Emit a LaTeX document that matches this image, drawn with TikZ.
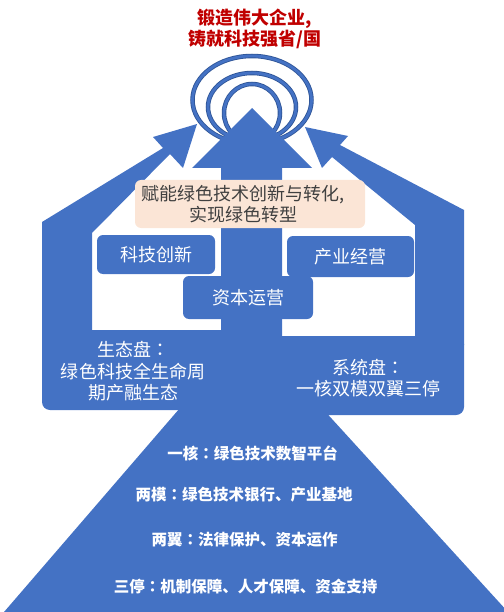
\documentclass[tikz,border=0pt]{standalone}
\usepackage{fontspec}
\setmainfont{Noto Sans CJK SC}
\newfontfamily\fanTi{Noto Sans CJK TC}
\newcommand{\maoHao}{{\fanTi ：}}
\definecolor{zhuLan}{HTML}{4472C4}
\definecolor{shenLan}{HTML}{2F5597}
\definecolor{qianFen}{HTML}{FBE5D6}
\definecolor{shenHong}{HTML}{C00000}
\definecolor{wenHui}{HTML}{404040}

\begin{document}
\begin{tikzpicture}[x=1bp,y=-1bp,
		kuai/.style={fill=zhuLan, rounded corners=6bp, inner sep=0pt},
		baiZi/.style={text=white, font=\fontsize{18bp}{21.5bp}\selectfont, align=center},
		taZi/.style={text=white, font=\bfseries\fontsize{15.5bp}{18bp}\selectfont},
		huan/.style={draw=shenLan, line width=4.5bp},
		huanNei/.style={draw=zhuLan, line width=2.8bp}]
		\useasboundingbox (0,0) rectangle (504,612);
		% rings behind the arrows
		\foreach \cy/\rx/\ry in {100/59.5/44, 107/44/34, 113/28/29}{
			\draw[huan] (252,\cy) ellipse [x radius=\rx bp, y radius=\ry bp];
			\draw[huanNei] (252,\cy) ellipse [x radius=\rx bp, y radius=\ry bp];
		}
		% three arrows
		\fill[zhuLan] (42,222) -- (163,148) -- (153,137) -- (197,124) -- (183,168) -- (170,154) -- (92,233) -- (92,345) -- (42,345) -- cycle;
		\fill[zhuLan] (464,210) -- (340,145) -- (348,136) -- (305,127) -- (322,168) -- (332,157) -- (415,225) -- (415,345) -- (464,345) -- cycle;
		\fill[zhuLan] (252,108) -- (312,168) -- (282,168) -- (282,345) -- (221,345) -- (221,168) -- (192,168) -- cycle;
		% panels and pyramid
		\fill[zhuLan, rounded corners=8bp] (42,330) rectangle (262,410);
		\fill[zhuLan, rounded corners=8bp] (240,336) rectangle (464,415);
		\fill[zhuLan] (249,328) -- (508,612) -- (4,612) -- cycle;

		\node[text=shenHong, font=\bfseries\fontsize{18bp}{21.5bp}\selectfont, align=center] (biaoTi) at (255,29) {锻造伟大企业,\\铸就科技强省/国};
		\node[fill=qianFen, rounded corners=6bp, minimum width=230bp, minimum height=48bp] (fuNengKuang) at (250,204) {};
		\node[text=wenHui, font=\fontsize{18bp}{21.5bp}\selectfont, align=center] (fuNeng) at (243,204) {赋能绿色技术创新与转化,\\实现绿色转型};

		\node[kuai, baiZi, minimum width=118bp, minimum height=39bp] (keJi) at (156,254.5) {科技创新};
		\node[kuai, baiZi, minimum width=127bp, minimum height=41bp] (chanYe) at (350.5,256.5) {产业经营};
		\node[kuai, baiZi, minimum width=130bp, minimum height=43bp] (ziBen) at (248,297.5) {资本运营};

		\node[baiZi] (shengTai) at (133,371.5) {生态盘\maoHao\\绿色科技全生命周\\期产融生态};
		\node[baiZi] (xiTong) at (368,378) {系统盘\maoHao\\一核双模双翼三停};

		\node[taZi] (yiHe) at (252.5,453) {一核\maoHao 绿色技术数智平台};
		\node[taZi] (liangMo) at (244,495) {两模\maoHao 绿色技术银行、产业基地};
		\node[taZi] (liangYi) at (244.5,540) {两翼\maoHao 法律保护、资本运作};
		\node[taZi] (sanTing) at (245.5,586.5) {三停\maoHao 机制保障、人才保障、资金支持};
	\end{tikzpicture}
\end{document}
